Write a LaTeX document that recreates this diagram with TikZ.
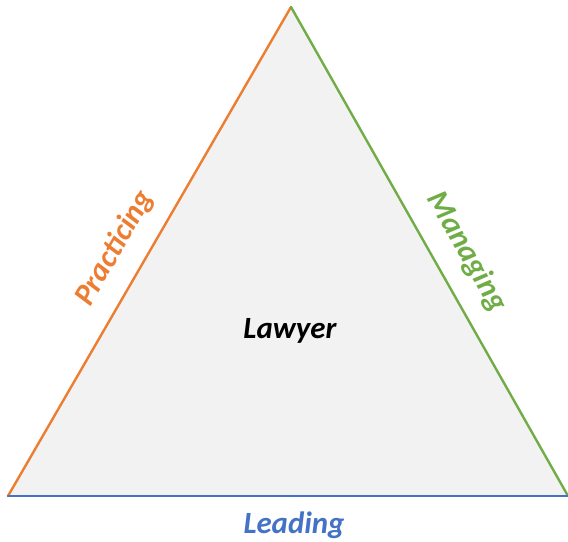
\documentclass[tikz,border=0pt]{standalone}
\usepackage{fontspec}
\setmainfont{Carlito}
\begin{document}
\begin{tikzpicture}[x=1bp,y=1bp,
  lbl/.style={font=\fontsize{31}{36}\selectfont\bfseries\itshape, inner sep=0pt},
  edge/.style={line width=2.4bp, line cap=round}]
\definecolor{practice}{HTML}{ED7D31}
\definecolor{manage}{HTML}{70AD47}
\definecolor{lead}{HTML}{4472C4}
\definecolor{core}{HTML}{F2F2F2}
\useasboundingbox (0,0) rectangle (568,542);
% corners of the triangle
\coordinate (top) at (291,535);
\coordinate (bl) at (8,46);
\coordinate (br) at (568,46);
\fill[core] (top) -- (br) -- (bl) -- cycle;
\draw[edge, practice] (bl) -- (top);
\draw[edge, manage] (top) -- (br);
\draw[edge, lead] (bl) -- (br);
% labels
\node[lbl] (lawyer) at (290,211) {Lawyer};
\node[lbl, practice, rotate=60] (practicing) at (115,294) {Practicing};
\node[lbl, manage, rotate=-60] (managing) at (467,290) {Managing};
\node[lbl, lead] (leading) at (294,17) {Leading};
\end{tikzpicture}
\end{document}
